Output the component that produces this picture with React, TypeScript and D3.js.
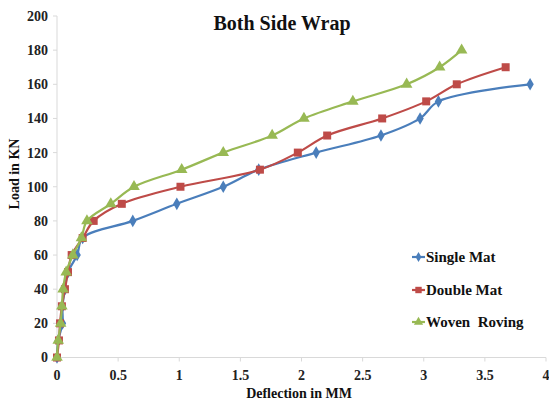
import React from "react";
import * as d3 from "d3";

const loadsSingle = [0, 10, 20, 30, 40, 50, 60, 70, 80, 90, 100, 110, 120, 130, 140, 150, 160];
const deflSingle = [0, 0.01, 0.045, 0.045, 0.065, 0.09, 0.165, 0.21, 0.62, 0.98, 1.36, 1.65, 2.12, 2.65, 2.97, 3.12, 3.87];

const loadsDouble = [0, 10, 20, 30, 40, 50, 60, 70, 80, 90, 100, 110, 120, 130, 140, 150, 160, 170];
const deflDouble = [0, 0.016, 0.025, 0.04, 0.065, 0.09, 0.12, 0.21, 0.3, 0.53, 1.01, 1.66, 1.97, 2.21, 2.66, 3.02, 3.27, 3.67];

const loadsWoven = [0, 10, 20, 30, 40, 50, 60, 70, 80, 90, 100, 110, 120, 130, 140, 150, 160, 170, 180];
const deflWoven = [0, 0.01, 0.03, 0.04, 0.05, 0.075, 0.13, 0.2, 0.245, 0.44, 0.63, 1.02, 1.36, 1.76, 2.02, 2.42, 2.86, 3.13, 3.31];

const xTicks = [0, 0.5, 1, 1.5, 2, 2.5, 3, 3.5, 4];
const yTicks = [0, 20, 40, 60, 80, 100, 120, 140, 160, 180, 200];

const seriesNames = ["Single Mat", "Double Mat", "Woven  Roving"];
const seriesColors = ["#4a7ebb", "#be4b48", "#98b954"];

const FONT = "'Liberation Serif', 'DejaVu Serif', serif";

export default function App() {
  const W = 549, H = 403;
  const x = d3.scaleLinear().domain([0, 4]).range([57, 546]);
  const y = d3.scaleLinear().domain([0, 200]).range([357.5, 16]);

  const series = [
    { name: seriesNames[0], color: seriesColors[0], xs: deflSingle, ys: loadsSingle, marker: "diamond" },
    { name: seriesNames[1], color: seriesColors[1], xs: deflDouble, ys: loadsDouble, marker: "square" },
    { name: seriesNames[2], color: seriesColors[2], xs: deflWoven, ys: loadsWoven, marker: "triangle" },
  ];

  const line = d3
    .line<[number, number]>()
    .x((d) => x(d[0]))
    .y((d) => y(d[1]))
    .curve(d3.curveCatmullRom.alpha(0.5));

  const sym = (m: string) => {
    if (m === "diamond") return d3.symbol().type(d3.symbolDiamond).size(46)();
    if (m === "square") return d3.symbol().type(d3.symbolSquare).size(64)();
    return d3.symbol().type(d3.symbolTriangle).size(58)();
  };

  const legendY = [257, 290, 322];

  return (
    <svg width={W} height={H} style={{ position: "absolute", left: 0, top: 0, background: "#fff" }}>
      <rect x={0} y={0} width={W} height={H} fill="#fff" />
      <text x={282} y={30} textAnchor="middle" fontFamily={FONT} fontWeight="bold" fontSize={20} fill="#111">
        Both Side Wrap
      </text>
      <line x1={x(0)} x2={x(0)} y1={y(200)} y2={y(0)} stroke="#d9d9d9" strokeWidth={1} />
      <line x1={x(0)} x2={x(4)} y1={y(0)} y2={y(0)} stroke="#d9d9d9" strokeWidth={1} />
      {yTicks.map((t) => (
        <g key={"y" + t}>
          <line x1={x(0) - 4} x2={x(0)} y1={y(t)} y2={y(t)} stroke="#d9d9d9" />
          <text x={48} y={y(t)} dy="0.35em" textAnchor="end" fontFamily={FONT} fontWeight="bold" fontSize={14} fill="#222">
            {t}
          </text>
        </g>
      ))}
      {xTicks.map((t) => (
        <g key={"x" + t}>
          <line x1={x(t)} x2={x(t)} y1={y(0)} y2={y(0) + 4} stroke="#d9d9d9" />
          <text x={x(t)} y={380} textAnchor="middle" fontFamily={FONT} fontWeight="bold" fontSize={14} fill="#222">
            {t}
          </text>
        </g>
      ))}
      <text
        transform={`translate(19,174) rotate(-90)`}
        textAnchor="middle"
        fontFamily={FONT}
        fontWeight="bold"
        fontSize={14}
        fill="#111"
      >
        Load in KN
      </text>
      <text x={299} y={398} textAnchor="middle" fontFamily={FONT} fontWeight="bold" fontSize={14} fill="#111">
        Deflection in MM
      </text>
      {series.map((s) => {
        const pts = s.xs.map((v, i) => [v, s.ys[i]] as [number, number]);
        return (
          <g key={s.name}>
            <path d={line(pts) || ""} fill="none" stroke={s.color} strokeWidth={2.2} />
            {pts.map((p, i) => (
              <path key={i} d={sym(s.marker) || ""} transform={`translate(${x(p[0])},${y(p[1])})`} fill={s.color} />
            ))}
          </g>
        );
      })}
      {series.map((s, i) => (
        <g key={"lg" + i}>
          <line x1={412} x2={425} y1={legendY[i]} y2={legendY[i]} stroke={s.color} strokeWidth={2.2} />
          <path d={sym(s.marker) || ""} transform={`translate(418.5,${legendY[i]}) scale(0.8)`} fill={s.color} />
          <text
            x={426}
            y={legendY[i]}
            dy="0.35em"
            fontFamily={FONT}
            fontWeight="bold"
            fontSize={15}
            fill="#111"
            style={{ whiteSpace: "pre" }}
          >
            {s.name}
          </text>
        </g>
      ))}
    </svg>
  );
}
